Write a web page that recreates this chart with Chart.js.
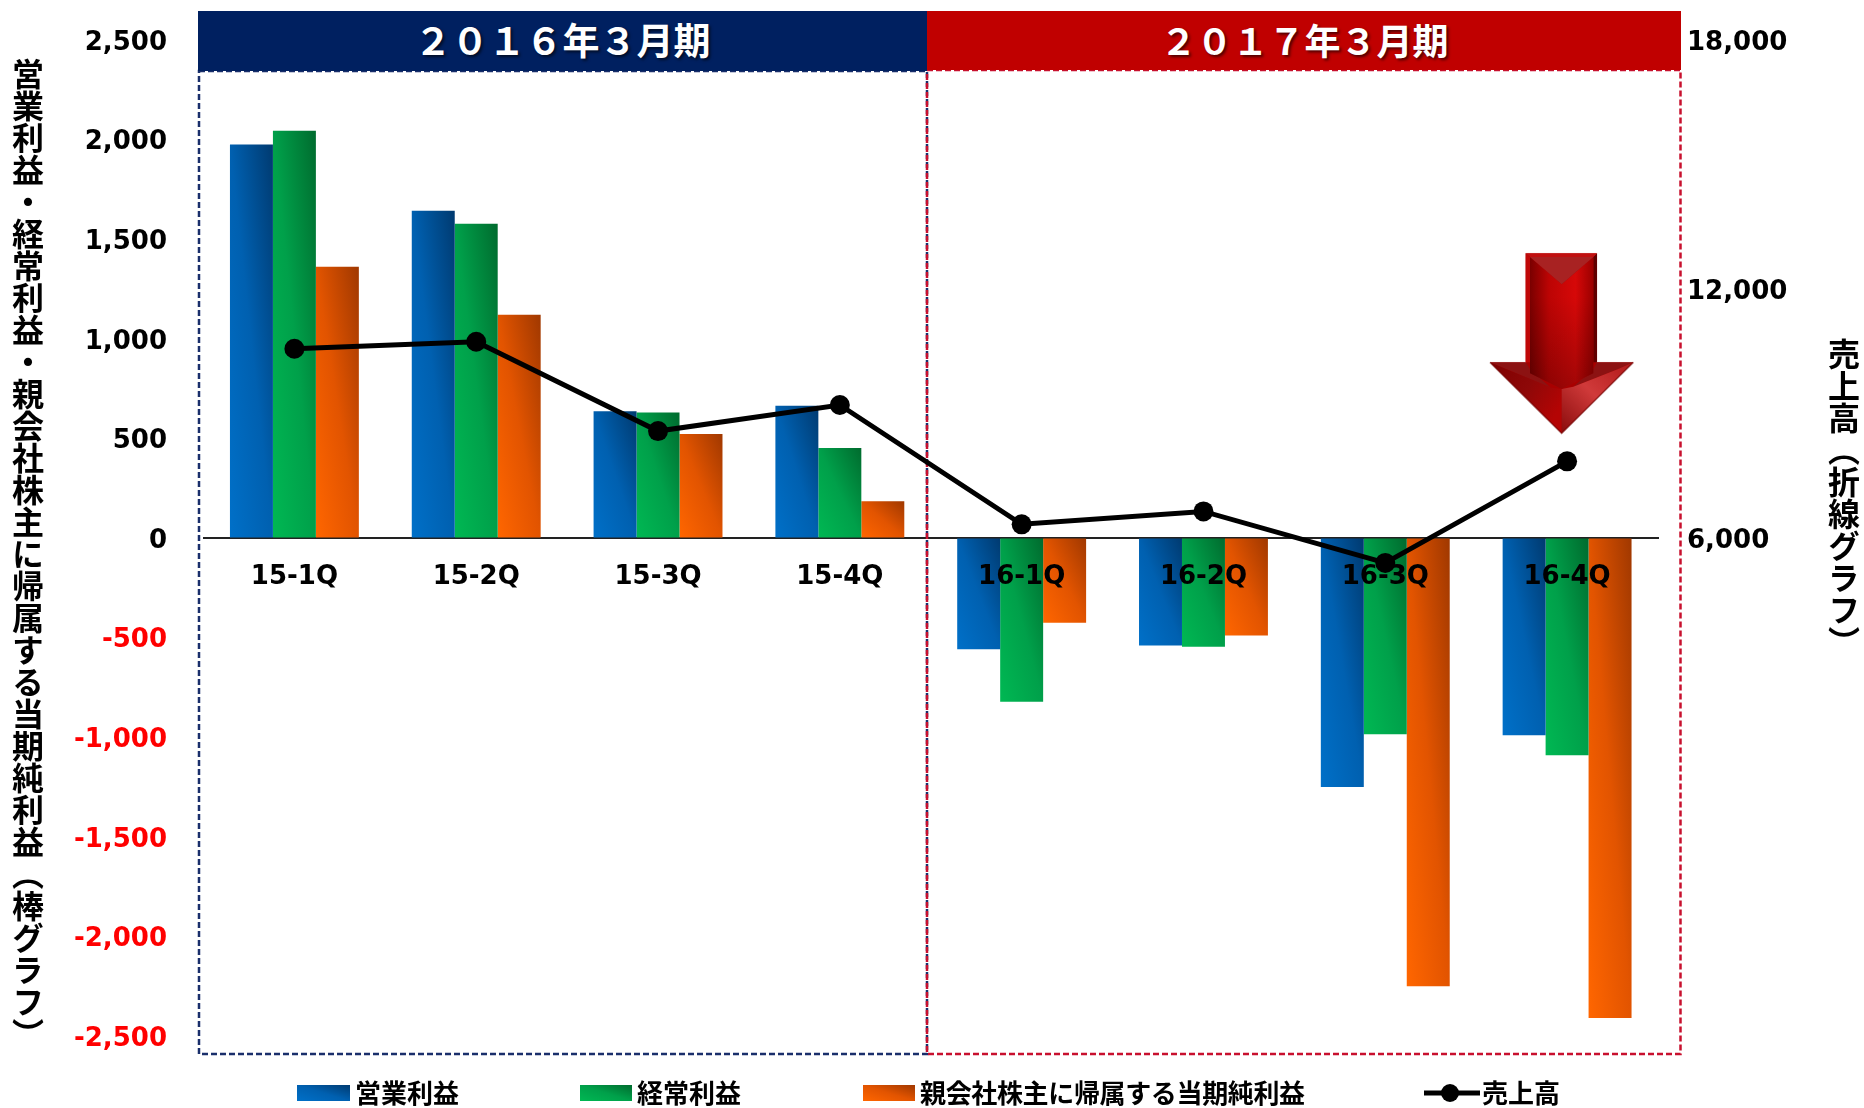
<!DOCTYPE html>
<html lang="ja">
<head>
<meta charset="utf-8">
<title>四半期業績</title>
<script src="https://cdn.jsdelivr.net/npm/chart.js@4/dist/chart.umd.min.js"></script>
<style>
html,body{margin:0;padding:0;background:#fff;}
#wrap{position:relative;width:1864px;height:1108px;overflow:hidden;font-family:"Noto Sans CJK JP","Noto Sans",sans-serif;font-weight:700;color:#000;}
canvas{position:absolute;left:0;top:0;}
.band{position:absolute;color:#fff;font-size:37px;line-height:1;display:flex;align-items:center;justify-content:center;text-shadow:2px 2px 3px rgba(0,0,0,.6);box-sizing:border-box;padding-bottom:4px;}
.vt{position:absolute;writing-mode:vertical-rl;font-size:32px;line-height:32px;white-space:nowrap;}
.lg{position:absolute;font-size:26px;line-height:30px;top:1077px;white-space:nowrap;}
.sw{position:absolute;top:1085px;height:16px;}
svg{position:absolute;}
</style>
</head>
<body>
<div id="wrap">
  <canvas id="c" width="1864" height="1108"></canvas>
  <div class="band" style="left:198px;top:11px;width:729px;height:60px;background:#002060;">２０１６年３月期</div>
  <div class="band" style="left:927px;top:11px;width:754px;height:59px;background:#C00000;padding-left:1px;font-size:36px">２０１７年３月期</div>
  <div class="vt" style="left:12px;top:58px">営業利益・経常利益・親会社株主に帰属する当期純利益（棒グラフ）</div>
  <div class="vt" style="left:1828px;top:338px">売上高（折線グラフ）</div>

  <div class="sw" style="left:297px;width:53px;background:linear-gradient(to top right,#0070C8,#0060B0 50%,#003A70)"></div>
  <div class="lg" style="left:355px">営業利益</div>
  <div class="sw" style="left:580px;width:52px;background:linear-gradient(to top right,#00B853,#00A04A 50%,#006B2E)"></div>
  <div class="lg" style="left:637px">経常利益</div>
  <div class="sw" style="left:863px;width:52px;background:linear-gradient(to top right,#FF6600,#E25400 50%,#A03800)"></div>
  <div class="lg" style="left:920px;letter-spacing:-.35px">親会社株主に帰属する当期純利益</div>
  <svg style="left:1424px;top:1083px" width="56" height="20" viewBox="0 0 56 20"><rect x="0" y="7.5" width="56" height="5" fill="#000"/><circle cx="26" cy="10" r="9" fill="#000"/></svg>
  <div class="lg" style="left:1482px">売上高</div>

  <svg style="left:1480px;top:245px" width="165" height="200" viewBox="0 0 495 600">
    <defs>
      <linearGradient id="face" x1="0" x2="1" y1="0" y2="0"><stop offset="0" stop-color="#7A0000"/><stop offset=".3" stop-color="#BC0404"/><stop offset=".72" stop-color="#D60808"/><stop offset="1" stop-color="#9A0000"/></linearGradient>
      <linearGradient id="shade" x1="0" x2="0" y1="0" y2="1"><stop offset=".3" stop-color="#000" stop-opacity="0"/><stop offset="1" stop-color="#000" stop-opacity=".25"/></linearGradient>
      <linearGradient id="ll" x1="0" x2="1" y1="0" y2=".6"><stop offset="0" stop-color="#7E0000"/><stop offset=".55" stop-color="#8E0808"/><stop offset="1" stop-color="#B40404"/></linearGradient>
      <linearGradient id="lr" x1="1" x2="0" y1="0" y2="1"><stop offset="0" stop-color="#B01818"/><stop offset=".5" stop-color="#D03A3A"/><stop offset="1" stop-color="#8A0C0C"/></linearGradient>
    </defs>
    <polygon points="137,25 351,25 351,352 460,352 245,565 30,352 137,352" fill="#A80000" stroke="#E8B0B0" stroke-width="1.5"/>
    <polygon points="137,25 150,36 150,352 137,352" fill="#C00808"/>
    <polygon points="351,25 340,36 340,352 351,352" fill="#600000"/>
    <polygon points="137,25 351,25 340,36 150,36" fill="#C01010"/>
    <polygon points="30,352 137,352 150,372 212,428 78,372" fill="#8C1212"/>
    <polygon points="460,352 351,352 340,372 280,425 415,372" fill="#8C1212"/>
    <polygon points="30,352 78,372 215,428 245,432 245,565" fill="url(#ll)"/>
    <polygon points="460,352 415,372 280,425 245,432 245,565" fill="url(#lr)"/>
    <polygon points="150,36 245,118 340,36 340,385 245,432 150,385" fill="url(#face)"/>
    <polygon points="150,36 245,118 340,36 340,385 245,432 150,385" fill="url(#shade)"/>
    <polygon points="150,36 340,36 245,118" fill="#A82222"/>
    <polyline points="30,352 245,565 460,352" fill="none" stroke="#6E0000" stroke-width="5" opacity=".55"/>
  </svg>
</div>
<script>
const categories = ["15-1Q","15-2Q","15-3Q","15-4Q","16-1Q","16-2Q","16-3Q","16-4Q"];
const operatingProfit = [1975,1643,636,664,-558,-540,-1250,-990];
const ordinaryProfit  = [2045,1578,630,452,-822,-546,-985,-1090];
const netProfit       = [1362,1121,522,184,-426,-490,-2250,-2410];
const netSales        = [10560,10730,8576,9205,6330,6640,5400,7848];
const seriesNames = ["営業利益","経常利益","親会社株主に帰属する当期純利益","売上高"];
const fy2016Frame = {l:199,t:71,r:927,b:1054,color:"#1A2F6B"};
const fy2017Frame = {l:927,t:70,r:1680.5,b:1054,color:"#C8102E"};
const CAT_PCT = 0.709;
const fmt = v => Number(v).toLocaleString("en-US");

function barGradient(stops, seriesIndex){
  return function(ctx){
    if(ctx.type !== "data") return stops[0];
    const {x, y} = ctx.chart.scales;
    if(!x || !y) return stops[0];
    const step = x.getPixelForValue(1) - x.getPixelForValue(0);
    const w = step * CAT_PCT / 3;
    const cx = x.getPixelForValue(ctx.dataIndex) + (seriesIndex - 1) * w;
    const y0 = y.getPixelForValue(0), y1 = y.getPixelForValue(ctx.raw);
    const top = Math.min(y0, y1), h = Math.max(1, Math.abs(y0 - y1));
    const cy = top + h / 2;
    const norm = Math.hypot(h, w);
    const nx = h / norm, ny = -w / norm, half = w * h / norm;
    const pts = [cx - nx*half, cy - ny*half, cx + nx*half, cy + ny*half];
    if(!pts.every(Number.isFinite)) return stops[0];
    const g = ctx.chart.ctx.createLinearGradient(pts[0], pts[1], pts[2], pts[3]);
    g.addColorStop(0, stops[0]);
    g.addColorStop(0.5, stops[1]);
    g.addColorStop(1, stops[2]);
    return g;
  };
}

const framesAndLabels = {
  id:"framesAndLabels",
  afterLayout(chart){
    chart._layers = chart._layers.filter(l => l.z !== 0.5);
  },
  beforeDatasetsDraw(chart){
    const c = chart.ctx;
    [fy2016Frame, fy2017Frame].forEach(f => {
      c.save();
      c.strokeStyle = f.color;
      c.lineWidth = 2.5;
      c.setLineDash([6,3]);
      c.strokeRect(f.l, f.t, f.r - f.l, f.b - f.t);
      c.restore();
    });
  },
  beforeDatasetDraw(chart, args){
    if(args.index === 3) chart.scales.x.drawLabels(chart.chartArea);
  }
};

new Chart(document.getElementById("c"), {
  data:{
    labels:categories,
    datasets:[
      {type:"bar",label:seriesNames[0],data:operatingProfit,yAxisID:"y",order:1,backgroundColor:barGradient(["#0070C8","#0060B0","#003A70"],0),barPercentage:1,categoryPercentage:CAT_PCT},
      {type:"bar",label:seriesNames[1],data:ordinaryProfit,yAxisID:"y",order:2,backgroundColor:barGradient(["#00B853","#00A04A","#006B2E"],1),barPercentage:1,categoryPercentage:CAT_PCT},
      {type:"bar",label:seriesNames[2],data:netProfit,yAxisID:"y",order:3,backgroundColor:barGradient(["#FF6600","#E25400","#A03800"],2),barPercentage:1,categoryPercentage:CAT_PCT},
      {type:"line",label:seriesNames[3],data:netSales,yAxisID:"y1",order:0,borderColor:"#000",backgroundColor:"#000",borderWidth:5,pointRadius:10,pointBackgroundColor:"#000",pointBorderWidth:0,tension:0,clip:false}
    ]
  },
  options:{
    responsive:false,
    animation:false,
    layout:{padding:{left:0,right:76,top:40,bottom:72}},
    plugins:{legend:{display:false},title:{display:false},tooltip:{enabled:false}},
    scales:{
      x:{
        position:{y:0},
        grid:{display:false,drawTicks:false},
        border:{display:true,color:"#222",width:2},
        ticks:{z:0.5,padding:24,autoSkip:false,maxRotation:0,color:"#000",font:{family:"'DejaVu Sans'",weight:"bold",size:26}}
      },
      y:{
        position:"left",min:-2500,max:2500,
        grid:{drawOnChartArea:false,drawTicks:true,tickLength:36.5,tickColor:"rgba(0,0,0,0)"},
        border:{display:false},
        afterFit(s){s.width=203.5;},
        ticks:{stepSize:500,padding:0,labelOffset:3,color:c=>c.tick.value<0?"#FF0000":"#000",font:{family:"'DejaVu Sans'",weight:"bold",size:26},callback:v=>fmt(v)}
      },
      y1:{
        position:"right",min:-6000,max:18000,
        grid:{drawOnChartArea:false,drawTicks:true,tickLength:29,tickColor:"rgba(0,0,0,0)"},
        border:{display:false},
        afterFit(s){s.width=130;},
        ticks:{stepSize:6000,padding:0,labelOffset:3,color:"#000",font:{family:"'DejaVu Sans'",weight:"bold",size:26},callback:v=>v>=6000?fmt(v):""}
      }
    }
  },
  plugins:[framesAndLabels]
});
</script>
</body>
</html>
